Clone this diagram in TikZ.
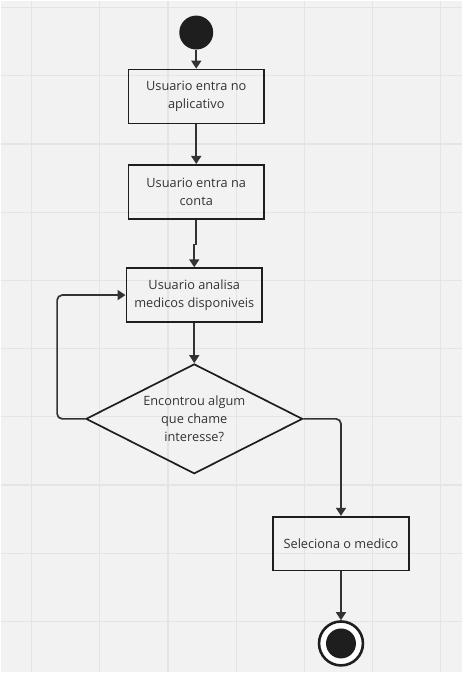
\documentclass[tikz,border=0pt]{standalone}
\usepackage{fontspec}
\setmainfont{Open Sans}
\usetikzlibrary{arrows.meta,shapes.geometric}

\definecolor{bgpaper}{RGB}{242,242,242}
\definecolor{gridline}{RGB}{228,228,228}
\definecolor{ink}{RGB}{51,51,51}
\definecolor{dot}{RGB}{30,30,30}

\begin{document}
\begin{tikzpicture}[
    x=1pt, y=-1pt,
    >={Triangle[length=8pt,width=10pt]},
    txt/.style={font=\fontsize{12.8}{17.7}\selectfont, text=ink, align=center},
    box/.style={txt, draw=dot, line width=1.7pt, minimum width=136pt, minimum height=54pt, inner sep=0pt},
    decision/.style={txt, diamond, draw=dot, line width=1.7pt, aspect=1.97, minimum width=217pt, minimum height=110pt, inner sep=0pt},
    startstate/.style={circle, fill=dot, minimum size=34pt, inner sep=0pt},
    endstate/.style={circle, draw=dot, line width=2.6pt, fill=white, minimum size=44pt, inner sep=0pt,
        path picture={\fill[dot] (path picture bounding box.center) circle (15pt);}},
    flow/.style={->, draw=ink, line width=1.7pt},
]

% background and grid
\fill[bgpaper] (0,0) rectangle (462,673);
\foreach \k in {0,...,6}{
    \draw[gridline, line width=1.2pt] (31+68.33*\k,0) -- (31+68.33*\k,673);
}
\foreach \k in {0,...,9}{
    \draw[gridline, line width=1.2pt] (0,7+68.33*\k) -- (462,7+68.33*\k);
}
\useasboundingbox (0,0) rectangle (462,673);

% states
\node[startstate] (inicio) at (196,32) {};
\node[box] (entraApp) at (196,96) {Usuario entra no\\aplicativo};
\node[box] (entraConta) at (196,191.5) {Usuario entra na\\conta};
\node[box] (analisa) at (194,295) {Usuario analisa\\medicos disponiveis};
\node[decision] (encontrou) at (194,419) {Encontrou algum\\que chame\\interesse?};
\node[box] (seleciona) at (341,544) {Seleciona o medico};
\node[endstate] (fim) at (341,644) {};

% connectors
\draw[flow] (inicio) -- (entraApp);
\draw[flow] (entraApp) -- (entraConta);
\draw[flow] (entraConta.south) -- ++(0,25) -| (analisa.north);
\draw[flow] (analisa) -- (encontrou);
\draw[flow, rounded corners=5pt] (encontrou.west) -- ++(-28,0) |- (analisa.west);
\draw[flow, rounded corners=5pt] (encontrou.east) -| (seleciona.north);
\draw[flow] (seleciona) -- (fim);

\end{tikzpicture}
\end{document}
